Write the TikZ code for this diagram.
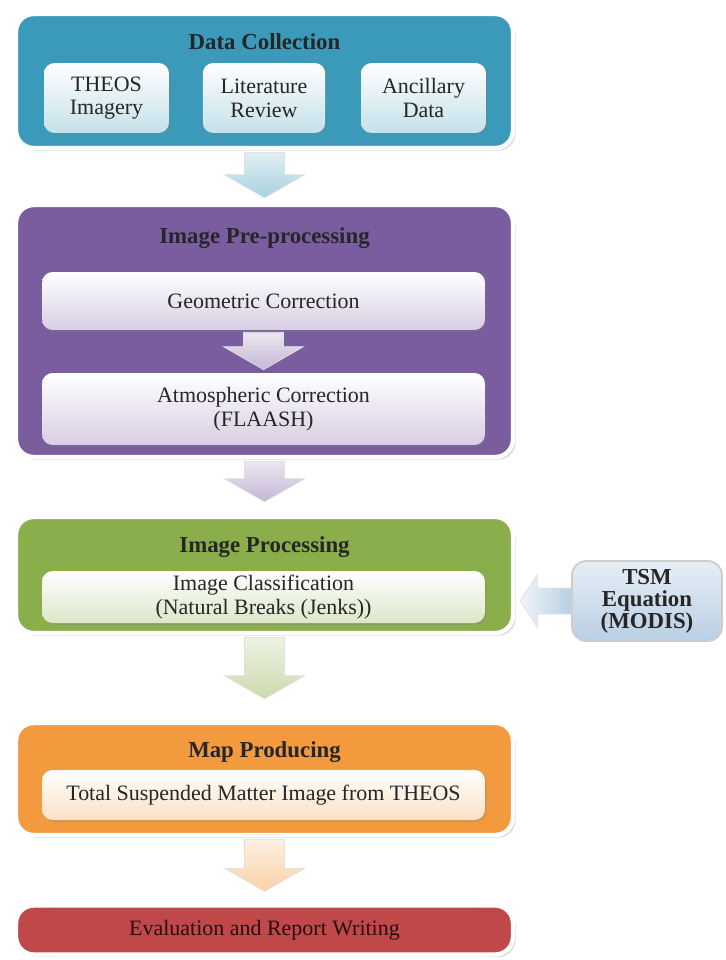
\documentclass[tikz,border=0pt]{standalone}
\usepackage{fontspec}
\setmainfont{Liberation Serif}
\usetikzlibrary{calc,shadows}

\definecolor{dcteal}{HTML}{3B9AB9}
\definecolor{prepurple}{HTML}{7A5D9F}
\definecolor{procgreen}{HTML}{8AAE4B}
\definecolor{maporange}{HTML}{F39A3E}
\definecolor{evalred}{HTML}{C0484B}
\definecolor{tsmblue}{HTML}{B9CFE4}

% block arrow from the bottom of one box down to the top of the next (#4 = gap above target)
\newcommand{\flowarrow}[4]{%
  \path[draw=gray!25, top color=#3!15, bottom color=#3!45]
    ($(#1.south)+(-20,2)$) -- ($(#2.north)+(-20,-23-#4)$) -- ($(#2.north)+(-40,-23-#4)$)
    -- ($(#2.north)+(0,-#4)$) -- ($(#2.north)+(40,-23-#4)$) -- ($(#2.north)+(20,-23-#4)$)
    -- ($(#1.south)+(20,2)$) -- cycle;}

\begin{document}
\begin{tikzpicture}[x=0.02cm, y=-0.02cm,
  stage/.style={draw=white, line width=2.5pt, rounded corners=10pt, minimum width=9.94cm,
    drop shadow={opacity=0.3, shadow xshift=1.5pt, shadow yshift=-1.5pt}},
  task/.style={rounded corners=6pt, top color=white, bottom color=#1!30, text=black!85,
    align=center, inner sep=2pt, font=\fontsize{12.5}{13.5}\selectfont,
    drop shadow={opacity=0.25, shadow xshift=1pt, shadow yshift=-1pt}},
  heading/.style={font=\fontsize{13}{15}\selectfont\bfseries, text=black!85}]
\useasboundingbox (0,0) rectangle (726,960);

% data collection
\node[stage, fill=dcteal, minimum height=2.68cm] (dc) at (264.5,81) {};
\node[heading] (dct) at (264.5,42) {Data Collection};
\node[task=dcteal, minimum width=2.5cm, minimum height=1.4cm] (theos) at (106.5,98) {THEOS\\Imagery};
\node[task=dcteal, minimum width=2.45cm, minimum height=1.4cm] (lit) at (264,98) {Literature\\Review};
\node[task=dcteal, minimum width=2.5cm, minimum height=1.4cm] (anc) at (423.5,98) {Ancillary\\Data};

% pre-processing
\node[stage, fill=prepurple, minimum height=5.04cm] (pre) at (264.5,331) {};
\node[heading] (pret) at (264.5,238) {Image Pre-processing};
\node[task=prepurple, minimum width=8.86cm, minimum height=1.16cm] (geo) at (263.5,301) {Geometric Correction};
\node[task=prepurple, minimum width=8.86cm, minimum height=1.44cm] (atm) at (263.5,409) {Atmospheric Correction\\(FLAASH)};

% processing
\node[stage, fill=procgreen, minimum height=2.32cm] (proc) at (264.5,575) {};
\node[heading] (proct) at (264.5,547) {Image Processing};
\node[task=procgreen, minimum width=8.86cm, minimum height=1.04cm] (cls) at (263.5,597) {Image Classification\\(Natural Breaks (Jenks))};
\node[draw=gray!40, line width=1pt, rounded corners=8pt, top color=tsmblue!35, bottom color=tsmblue,
  minimum width=3cm, minimum height=1.6cm, align=center, inner sep=2pt,
  font=\fontsize{13}{12.5}\selectfont\bfseries, text=black!85] (tsm) at (647,601) {TSM\\Equation\\(MODIS)};

% map
\node[stage, fill=maporange, minimum height=2.24cm] (map) at (264.5,779) {};
\node[heading] (mapt) at (264.5,752) {Map Producing};
\node[task=maporange, minimum width=8.86cm, minimum height=1.0cm] (tsmimg) at (263.5,795) {Total Suspended Matter Image from THEOS};

% evaluation
\node[stage, fill=evalred, minimum height=0.98cm, text=black!80!evalred,
  font=\fontsize{12.5}{14}\selectfont] (eval) at (264.5,930) {Evaluation and Report Writing};

% arrows
\flowarrow{dc}{pre}{dcteal}{5}
\flowarrow{geo}{atm}{prepurple}{3}
\flowarrow{pre}{proc}{prepurple}{13}
\flowarrow{proc}{map}{procgreen}{22}
\flowarrow{map}{eval}{maporange}{12}

\coordinate (tsmtip) at (proc.east |- tsm.west);
\path[draw=gray!25, left color=tsmblue!20, right color=tsmblue]
  ($(tsm.west)+(0,-13)$) -- ($(tsmtip)+(22,-13)$) -- ($(tsmtip)+(22,-26)$) -- ($(tsmtip)+(5,0)$)
  -- ($(tsmtip)+(22,26)$) -- ($(tsmtip)+(22,13)$) -- ($(tsm.west)+(0,13)$) -- cycle;
\end{tikzpicture}
\end{document}
